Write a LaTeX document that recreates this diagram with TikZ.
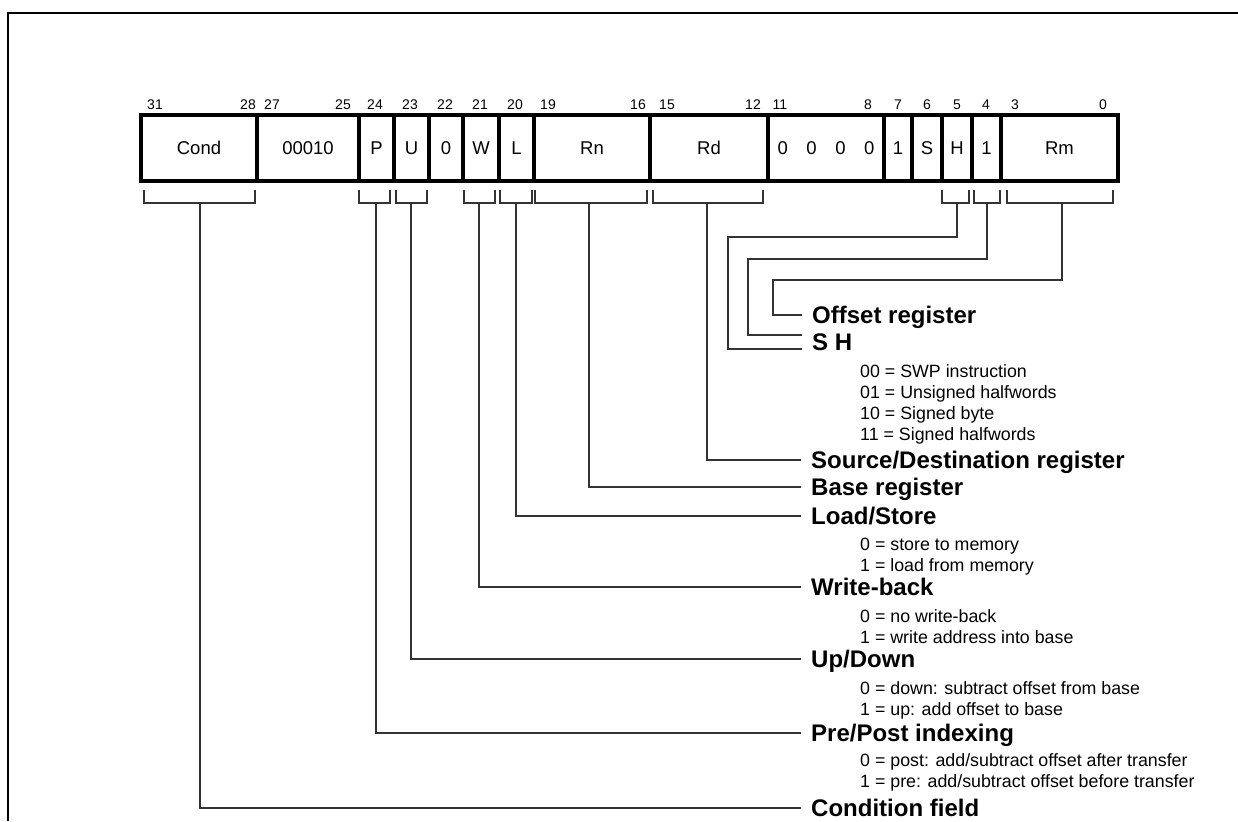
\documentclass[tikz,border=0pt]{standalone}
\usepackage{fontspec}
\setmainfont{Liberation Sans}
\begin{document}
\begin{tikzpicture}[x=1pt,y=-1pt,
  field/.style={draw=black,line width=4.5pt,minimum height=66pt,inner sep=0pt,anchor=center,
     font=\fontsize{18.5}{18.5}\selectfont},
  bitnum/.style={inner sep=0pt,font=\fontsize{14}{14}\selectfont},
  brk/.style={draw=black!80,line width=1.3pt},
  conn/.style={draw=black!80,line width=1.4pt},
  lbl/.style={anchor=west,inner xsep=10pt,inner ysep=0pt,text height=17.2pt,text depth=0pt,
     font=\fontsize{24}{24}\selectfont\bfseries},
  sub/.style={anchor=west,inner sep=0pt,text height=12.7pt,text depth=0pt,
     font=\fontsize{17.8}{17.8}\selectfont}]
\useasboundingbox (0,0) rectangle (1238,821);
\draw[black,line width=1.5pt] (8,821) -- (8,13) -- (1238,13);
% fields
\node[field,minimum width=116pt] (cond) at (199,148) {Cond};
\node[field,minimum width=102pt] (opc) at (308,148) {00010};
\node[field,minimum width=35pt] (p) at (376.5,148) {P};
\node[field,minimum width=35pt] (u) at (411.5,148) {U};
\node[field,minimum width=34pt] (z) at (446,148) {0};
\node[field,minimum width=36pt] (w) at (481,148) {W};
\node[field,minimum width=35pt] (l) at (516.5,148) {L};
\node[field,minimum width=116pt] (rn) at (592,148) {Rn};
\node[field,minimum width=118pt] (rd) at (709,148) {Rd};
\node[field,minimum width=116pt] (zeros) at (826,148) {0\hskip18.5pt 0\hskip18.5pt 0\hskip18.5pt 0};
\node[field,minimum width=28pt] (oneA) at (898,148) {1};
\node[field,minimum width=30pt] (s) at (927,148) {S};
\node[field,minimum width=30pt] (h) at (957,148) {H};
\node[field,minimum width=29pt] (oneB) at (986.5,148) {1};
\node[field,minimum width=117pt] (rm) at (1059.5,148) {Rm};
% bit numbers
\foreach \x/\t/\n in {155/31/b31,248/28/b28,272/27/b27,343/25/b25,375/24/b24,410/23/b23,445/22/b22,480/21/b21,515/20/b20,548/19/b19,638/16/b16,667/15/b15,753/12/b12,780/11/b11,868/8/b8,898/7/b7,927/6/b6,957/5/b5,986/4/b4,1015/3/b3,1103/0/b0}
  \node[bitnum] (\n) at (\x,105) {\t};
% brackets
\foreach \a/\b/\c/\n in {144/255/200/kcond,359/390/376/kp,396/427/411/ku,464/495/479/kw,500/532/516/kl,535/647/589/krn,653/763/707/krd,942/969/957/kh,974/1000/987/kone,1007/1113/1062/krm}{
  \draw[brk] (\a,190) |- (\b,203) -- (\b,190);
  \coordinate (\n) at (\c,203);
}
% labels
\node[lbl] (off) at (802,315) {Offset register};
\node[lbl] (sh) at (802,342) {S H};
\node[sub] (sh0) at (860,371) {00 = SWP instruction};
\node[sub] (sh1) at (860,392) {01 = Unsigned halfwords};
\node[sub] (sh2) at (860,413) {10 = Signed byte};
\node[sub] (sh3) at (860,434) {11 = Signed halfwords};
\node[lbl] (srd) at (801,460) {Source/Destination register};
\node[lbl] (base) at (801,487) {Base register};
\node[lbl] (ls) at (801,516) {Load/Store};
\node[sub] (ls0) at (860,544) {0 = store to memory};
\node[sub] (ls1) at (860,565) {1 = load from memory};
\node[lbl] (wb) at (801,587) {Write-back};
\node[sub] (wb0) at (860,616) {0 = no write-back};
\node[sub] (wb1) at (860,637) {1 = write address into base};
\node[lbl] (ud) at (801,659) {Up/Down};
\node[sub] (ud0) at (860,688) {0 = down: subtract offset from base};
\node[sub] (ud1) at (860,709) {1 = up: add offset to base};
\node[lbl] (pp) at (801,733) {Pre/Post indexing};
\node[sub] (pp0) at (860,760) {0 = post: add/subtract offset after transfer};
\node[sub] (pp1) at (860,781) {1 = pre: add/subtract offset before transfer};
\node[lbl] (cf) at (801,808) {Condition field};
% connectors
\draw[conn] (krm) -- ++(0,77) -| ([xshift=-29pt]off.west) -- (off.west);
\draw[conn] (kone) -- ++(0,56) -| ([xshift=-54pt,yshift=7pt]sh.west) -- ([yshift=7pt]sh.west);
\draw[conn] (kh) -- ++(0,34) -| ([xshift=-74pt,yshift=-7pt]sh.west) -- ([yshift=-7pt]sh.west);
\draw[conn] (krd) |- (srd.west);
\draw[conn] (krn) |- (base.west);
\draw[conn] (kl) |- (ls.west);
\draw[conn] (kw) |- (wb.west);
\draw[conn] (ku) |- (ud.west);
\draw[conn] (kp) |- (pp.west);
\draw[conn] (kcond) |- (cf.west);
\end{tikzpicture}
\end{document}
